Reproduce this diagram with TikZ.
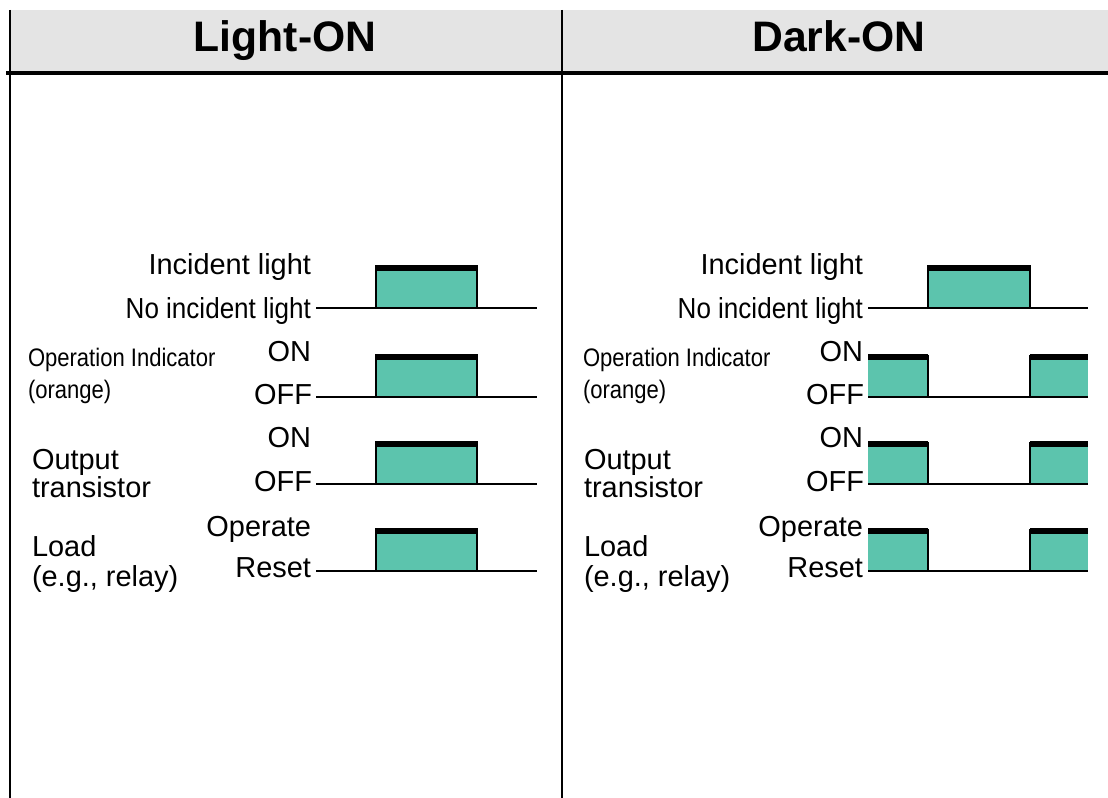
\documentclass[tikz,border=0pt]{standalone}
\usepackage{graphicx}
\usepackage{fontspec}
\setmainfont{Liberation Sans}
\definecolor{pulsegreen}{HTML}{5CC4AD}
\definecolor{headgray}{HTML}{E4E4E4}
\tikzstyle{every node}=[inner sep=0pt, outer sep=0pt, font=\fontsize{21.7}{24}\selectfont]

\begin{document}
\begin{tikzpicture}[x=0.75pt, y=-0.75pt,
  lvl/.style={anchor=base east},
  sig/.style={anchor=base west},
  narrow/.style={font=\fontsize{19}{21}\selectfont},
  title/.style={anchor=base, font=\fontsize{32}{36}\selectfont\bfseries},
  baseln/.style={line width=2.1pt},
  edgeln/.style={line width=1.1pt},
  topbar/.style={line width=3.8pt},
  frame/.style={line width=1.2pt}]
  \useasboundingbox (0,0) rectangle (1108,798);

  % header band and frame
  \fill[headgray] (10,10) rectangle (1108,73);
  \draw[line width=2.8pt] (6,73) -- (1108,73);
  \draw[frame] (10,10) -- (10,798);
  \draw[frame] (562,10) -- (562,798);
  \node[title] (tlight) at (285,52) {Light-ON};
  \node[title] (tdark) at (839,52) {Dark-ON};

  % Light-ON panel
  \node[lvl] (inc1) at (311,275) {Incident light};
  \node[lvl] (noinc1) at (311,319) {\scalebox{0.9}[1]{No incident light}};
  \node[lvl] (on1) at (311,362) {ON};
  \node[lvl] (off1) at (312,405) {OFF};
  \node[lvl] (on2) at (311,448) {ON};
  \node[lvl] (off2) at (312,492) {OFF};
  \node[lvl] (op1) at (311,537) {Operate};
  \node[lvl] (rs1) at (311,578) {Reset};
  \node[sig, narrow] (ind1) at (28,367) {\scalebox{0.87}[1]{Operation Indicator}};
  \node[sig, narrow] (org1) at (28,399) {\scalebox{0.87}[1]{(orange)}};
  \node[sig] (out1) at (32,470) {Output};
  \node[sig] (tr1) at (32,498) {transistor};
  \node[sig] (ld1) at (32,557) {Load};
  \node[sig] (eg1) at (32,587) {(e.g., relay)};

  \foreach \y in {308,397,484,571} {
    \fill[pulsegreen] (376,\y) rectangle (477,\y-42);
    \draw[edgeln] (376,\y) -- (376,\y-42) -- (477,\y-42) -- (477,\y);
    \draw[topbar] (376,\y-40) -- (477,\y-40);
    \draw[baseln] (316,\y) -- (537,\y);
  }

  % Dark-ON panel
  \node[lvl] (inc2) at (863,275) {Incident light};
  \node[lvl] (noinc2) at (863,319) {\scalebox{0.9}[1]{No incident light}};
  \node[lvl] (on3) at (863,362) {ON};
  \node[lvl] (off3) at (864,405) {OFF};
  \node[lvl] (on4) at (863,448) {ON};
  \node[lvl] (off4) at (864,492) {OFF};
  \node[lvl] (op2) at (863,537) {Operate};
  \node[lvl] (rs2) at (863,578) {Reset};
  \node[sig, narrow] (ind2) at (583,367) {\scalebox{0.87}[1]{Operation Indicator}};
  \node[sig, narrow] (org2) at (583,399) {\scalebox{0.87}[1]{(orange)}};
  \node[sig] (out2) at (584,470) {Output};
  \node[sig] (tr2) at (584,498) {transistor};
  \node[sig] (ld2) at (584,557) {Load};
  \node[sig] (eg2) at (584,587) {(e.g., relay)};

  \fill[pulsegreen] (928,308) rectangle (1030,266);
  \draw[edgeln] (928,308) -- (928,266) -- (1030,266) -- (1030,308);
  \draw[topbar] (928,268) -- (1030,268);
  \draw[baseln] (868,308) -- (1088,308);
  \foreach \y in {397,484,571} {
    \fill[pulsegreen] (868,\y) rectangle (928,\y-42);
    \fill[pulsegreen] (1030,\y) rectangle (1088,\y-42);
    \draw[edgeln] (928,\y-42) -- (928,\y);
    \draw[edgeln] (1030,\y) -- (1030,\y-42);
    \draw[topbar] (868,\y-40) -- (928,\y-40);
    \draw[topbar] (1030,\y-40) -- (1088,\y-40);
    \draw[baseln] (868,\y) -- (1088,\y);
  }
\end{tikzpicture}
\end{document}
